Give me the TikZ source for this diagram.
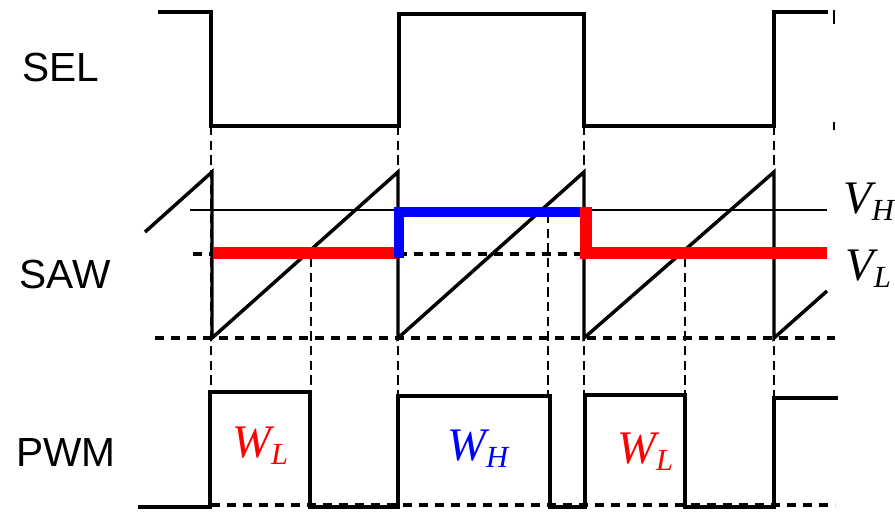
\documentclass[tikz,border=0pt]{standalone}
\usepackage{fontspec}
\newfontfamily\arialf{Liberation Sans}
\newfontfamily\timesf{Liberation Serif}
\newcommand\mysub[1]{\raisebox{-5.5pt}{\fontsize{23}{23}\selectfont #1}}
\begin{document}
\begin{tikzpicture}[x=0.75pt,y=-0.75pt,
  wave/.style={line width=2.6pt, line join=miter},
  guide/.style={line width=1.4pt, dash pattern=on 7pt off 4pt},
  level/.style={line width=2.6pt, dash pattern=on 7pt off 5pt},
  lbl/.style={font=\arialf\fontsize{30.5}{36}\selectfont, inner sep=0},
  mlbl/.style={font=\timesf\itshape\fontsize{35}{40}\selectfont, inner sep=0, anchor=base west}]
\useasboundingbox (0,0) rectangle (895,512);
% guide lines
\draw[guide] (211,126) -- (211,392);
\draw[guide] (398,126) -- (398,396);
\draw[guide] (584,126) -- (584,395);
\draw[guide] (774,126) -- (774,398);
\draw[guide] (311,258) -- (311,392);
\draw[guide] (548,214) -- (548,396);
\draw[guide] (685,258) -- (685,395);
\draw[line width=1.4pt] (834,10) -- (834,24);
\draw[line width=1.4pt] (834,122) -- (834,130);
% dashed levels
\draw[level] (155,338) -- (835,338);
\draw[level] (193,254) -- (213,254);
\draw[level] (398,254) -- (584,254);
\draw[level] (211,505) -- (835,505);
% V_H
\draw[line width=1.6pt] (190,210) -- (827,210);
% SEL
\draw[wave] (158,12) -- (211,12) -- (211,126) -- (399,126) -- (399,14) -- (584,14) -- (584,126) -- (774,126) -- (774,12) -- (828,12);
% SAW
\draw[wave] (145,232) -- (212,172) -- (212,338) -- (398,172) -- (398,338) -- (584,172) -- (584,338) -- (774,172) -- (774,338) -- (827,291);
% PWM
\draw[wave] (138,507) -- (210,507) -- (210,392) -- (310,392) -- (310,507) -- (398,507) -- (398,396) -- (550,396) -- (550,507) -- (585,507) -- (585,395) -- (685,395) -- (685,507) -- (774,507) -- (774,398) -- (838,398);
% selected threshold
\draw[red, line width=8.5pt] (213,253) -- (398,253);
\draw[blue, line width=8pt, line join=miter] (399,258) -- (399,212) -- (586,212);
\draw[red, line width=8.5pt, line join=miter] (586,207) -- (586,253) -- (827,253);
% labels
\node[lbl] (sel) at (61,67) {SEL};
\node[lbl] (saw) at (65,274) {SAW};
\node[lbl] (pwm) at (66,452) {PWM};
\node[mlbl] (vh) at (843,213) {V\mysub{H}};
\node[mlbl] (vl) at (845,280) {V\mysub{L}};
\node[mlbl, text=red] (wl1) at (232,457) {W\mysub{L}};
\node[mlbl, text=blue] (wh) at (447,460) {W\mysub{H}};
\node[mlbl, text=red] (wl2) at (617,463) {W\mysub{L}};
\end{tikzpicture}
\end{document}
